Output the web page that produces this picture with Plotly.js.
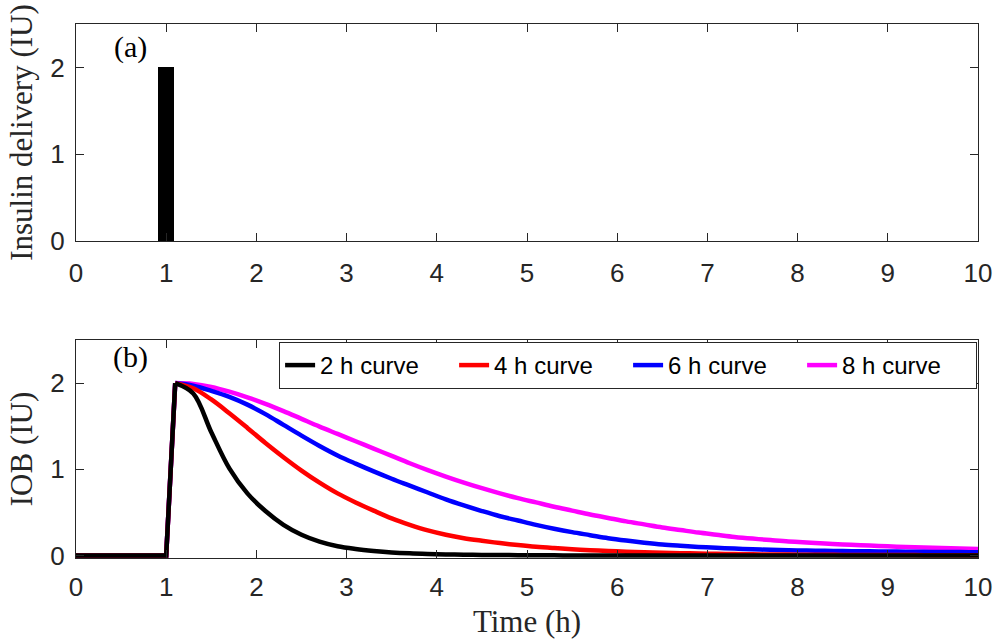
<!DOCTYPE html>
<html>
<head>
<meta charset="utf-8">
<script src="https://cdn.plot.ly/plotly-3.0.1.min.js"></script>
<style>
  html, body { margin: 0; padding: 0; background: #ffffff; }
  #chart { width: 1000px; height: 639px; }
</style>
</head>
<body>
<div id="chart"></div>
<script>
// ---- data ----
const deliveryTime = [1];
const deliveryIU = [2];

const time = [0, 1.0, 1.1, 1.3, 1.5, 1.7, 1.9, 2.1, 2.3, 2.5, 2.7, 2.9, 3.1, 3.3, 3.5, 3.7, 3.9,
              4.1, 4.3, 4.5, 4.7, 4.9, 5.1, 5.3, 5.5, 5.7, 5.9, 6.1, 6.3, 6.5, 6.7, 6.9, 7.1, 7.3,
              7.5, 7.7, 7.9, 8.1, 8.3, 8.5, 8.7, 8.9, 9.1, 9.3, 9.5, 9.7, 9.9, 10.1];

const iob2h = [0, 0, 2.00, 1.88, 1.43, 1.01, 0.72, 0.515, 0.355, 0.24, 0.16, 0.107, 0.075, 0.052, 0.035, 0.024, 0.017,
               0.012, 0.008, 0.006, 0.004, 0.003, 0.002, 0.001, 0, 0, 0, 0, 0, 0, 0, 0, 0, 0,
               0, 0, 0, 0, 0, 0, 0, 0, 0, 0, 0, 0, 0, 0];
const iob4h = [0, 0, 2.00, 1.94, 1.81, 1.65, 1.48, 1.305, 1.14, 0.985, 0.845, 0.72, 0.615, 0.52, 0.43, 0.355, 0.29,
               0.24, 0.20, 0.17, 0.143, 0.12, 0.10, 0.085, 0.072, 0.061, 0.051, 0.043, 0.036, 0.031, 0.026, 0.022, 0.018, 0.015,
               0.013, 0.011, 0.0095, 0.0085, 0.0075, 0.006, 0.0055, 0.0045, 0.004, 0.0035, 0.003, 0.0025, 0.002, 0.002];
const iob6h = [0, 0, 2.00, 1.97, 1.91, 1.84, 1.75, 1.64, 1.515, 1.39, 1.27, 1.16, 1.065, 0.975, 0.89, 0.81, 0.73,
               0.65, 0.58, 0.515, 0.455, 0.405, 0.355, 0.31, 0.27, 0.235, 0.20, 0.172, 0.148, 0.127, 0.112, 0.099, 0.088, 0.079,
               0.071, 0.065, 0.06, 0.056, 0.053, 0.05, 0.048, 0.046, 0.044, 0.042, 0.041, 0.04, 0.038, 0.037];
const iob8h = [0, 0, 2.00, 1.99, 1.955, 1.90, 1.835, 1.76, 1.675, 1.585, 1.495, 1.41, 1.325, 1.24, 1.155, 1.07, 0.99,
               0.915, 0.845, 0.78, 0.72, 0.665, 0.615, 0.565, 0.52, 0.475, 0.435, 0.395, 0.36, 0.325, 0.295, 0.265, 0.24, 0.215,
               0.195, 0.178, 0.162, 0.15, 0.138, 0.127, 0.118, 0.11, 0.102, 0.095, 0.088, 0.082, 0.076, 0.071];

const seriesNames = ['2 h curve', '4 h curve', '6 h curve', '8 h curve'];
const seriesColors = ['#000000', '#ff0000', '#0000ff', '#ff00ff'];
const seriesValues = [iob2h, iob4h, iob6h, iob8h];

const xTicks = [0, 1, 2, 3, 4, 5, 6, 7, 8, 9, 10];
const yTicks = [0, 1, 2];

// index where the bolus ramp ends and the decay begins
const peakIndex = 2;

// ---- styling ----
const axisColor = '#262626';
const tickFont = { family: 'Liberation Sans, Arial, sans-serif', size: 26, color: axisColor };
const titleFont = { family: 'Liberation Serif, Times New Roman, serif', size: 31, color: axisColor };

function xAxis(anchor, showTitle, standoff) {
  const ax = {
    anchor: anchor, range: [0, 10], tickmode: 'array', tickvals: xTicks,
    ticks: 'inside', ticklen: 8, tickcolor: axisColor, tickwidth: 1,
    showline: true, linecolor: axisColor, linewidth: 1, mirror: 'allticks',
    showgrid: false, zeroline: false, tickfont: tickFont, fixedrange: true,
    ticklabelstandoff: standoff
  };
  if (showTitle) ax.title = { text: 'Time (h)', font: titleFont, standoff: 11 };
  return ax;
}
function yAxis(anchor, domain, range, title) {
  return {
    anchor: anchor, domain: domain, range: range, tickmode: 'array', tickvals: yTicks,
    ticks: 'inside', ticklen: 8, tickcolor: axisColor, tickwidth: 1,
    showline: true, linecolor: axisColor, linewidth: 1, mirror: 'allticks',
    showgrid: false, zeroline: false, tickfont: tickFont, fixedrange: true,
    ticklabelstandoff: 5,
    title: { text: title, font: titleFont, standoff: 8 }
  };
}

const traces = [];
traces.push({
  type: 'bar', x: deliveryTime, y: deliveryIU, width: 0.18,
  marker: { color: '#000000', line: { width: 0 } },
  xaxis: 'x', yaxis: 'y', showlegend: false, hoverinfo: 'skip'
});
// draw longer curves first so the 2 h curve sits on top
for (let i = seriesValues.length - 1; i >= 0; i--) {
  traces.push({
    type: 'scatter', mode: 'lines',
    x: time.slice(0, peakIndex + 1), y: seriesValues[i].slice(0, peakIndex + 1),
    name: seriesNames[i], legendgroup: seriesNames[i], showlegend: false,
    line: { color: seriesColors[i], width: 4.5 },
    xaxis: 'x2', yaxis: 'y2', hoverinfo: 'skip'
  });
  traces.push({
    type: 'scatter', mode: 'lines',
    x: time.slice(peakIndex), y: seriesValues[i].slice(peakIndex),
    name: seriesNames[i], legendgroup: seriesNames[i],
    line: { color: seriesColors[i], width: 4.5, shape: 'spline', smoothing: 1 },
    xaxis: 'x2', yaxis: 'y2', hoverinfo: 'skip'
  });
}

const layout = {
  width: 1000, height: 639,
  margin: { l: 76, r: 22, t: 24, b: 81 },
  paper_bgcolor: '#ffffff', plot_bgcolor: '#ffffff',
  showlegend: true,
  xaxis: xAxis('y', false, 9),
  yaxis: yAxis('x', [0.5936, 1], [0, 2.5], 'Insulin delivery (IU)'),
  xaxis2: xAxis('y2', true, 6),
  yaxis2: yAxis('x2', [0, 0.4082], [-0.03, 2.5], 'IOB (IU)'),
  bargap: 0,
  legend: {
    orientation: 'h', traceorder: 'reversed',
    x: 0.999, xanchor: 'right', y: 0.4045, yanchor: 'top',
    bgcolor: '#ffffff', bordercolor: axisColor, borderwidth: 1,
    font: { family: 'Liberation Sans, Arial, sans-serif', size: 24, color: '#000000' },
    entrywidth: 129, entrywidthmode: 'pixels', itemwidth: 30
  },
  annotations: [
    { text: '(a)', xref: 'x', yref: 'y', x: 0.6, y: 2.23, showarrow: false,
      font: { family: 'Liberation Serif, Times New Roman, serif', size: 30, color: '#000000' } },
    { text: '(b)', xref: 'x2', yref: 'y2', x: 0.6, y: 2.30, showarrow: false,
      font: { family: 'Liberation Serif, Times New Roman, serif', size: 30, color: '#000000' } }
  ]
};

Plotly.newPlot('chart', traces, layout, { staticPlot: true, displayModeBar: false });
</script>
</body>
</html>
